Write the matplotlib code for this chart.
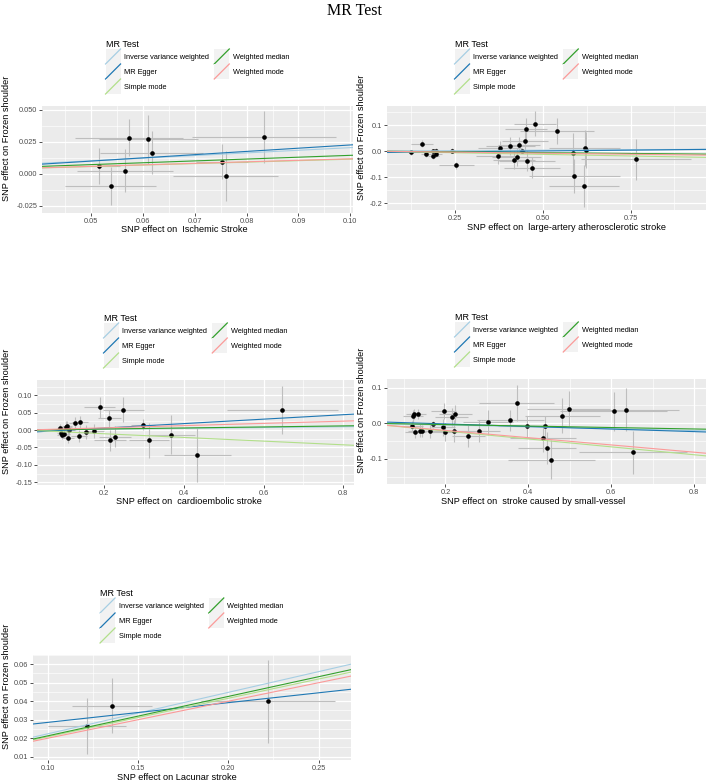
import numpy as np
import matplotlib
matplotlib.use('Agg')
import matplotlib.pyplot as plt
from matplotlib.lines import Line2D
from matplotlib.patches import Rectangle
from matplotlib.legend_handler import HandlerBase
from matplotlib.ticker import MultipleLocator, AutoMinorLocator, FormatStrFormatter

plt.rcParams['font.family'] = ['Liberation Sans', 'DejaVu Sans']
plt.rcParams['axes.unicode_minus'] = False

# ---- data ----
methods = ['Inverse variance weighted', 'MR Egger', 'Simple mode', 'Weighted median', 'Weighted mode']
method_colors = ['#a6cee3', '#1f78b4', '#b2df8a', '#33a02c', '#fb9a99']

# Ischemic stroke
isch_x = [0.0516, 0.0538, 0.0566, 0.0574, 0.0611, 0.0617, 0.0752, 0.0760, 0.0833]
isch_y = [0.0062, -0.0094, 0.0026, 0.0284, 0.0270, 0.0167, 0.0096, -0.0016, 0.0286]
isch_xerr = [0.004, 0.0088, 0.0092, 0.0104, 0.0095, 0.0099, 0.005, 0.0101, 0.0139]
isch_yerr = [0.0139, 0.0147, 0.0169, 0.0146, 0.0193, 0.0165, 0.0137, 0.0195, 0.0202]
isch_slope = [0.205, 0.252, 0.115, 0.145, 0.118]
isch_icpt = [0.0, -0.0026, 0.0, 0.0, 0.0]

# large-artery atherosclerotic stroke
laa_x = [0.125, 0.156, 0.167, 0.186, 0.188, 0.195, 0.197, 0.242, 0.254, 0.371,
         0.378, 0.407, 0.419, 0.426, 0.432, 0.440, 0.450, 0.453, 0.455, 0.468,
         0.478, 0.540, 0.586, 0.590, 0.617, 0.619, 0.624, 0.765]
laa_y = [-0.005, 0.029, -0.012, 0.001, -0.018, 0.000, -0.010, 0.001, -0.055, -0.019,
         0.010, 0.020, -0.035, -0.023, 0.024, 0.001, 0.037, 0.083, -0.038, -0.063,
         0.104, 0.076, -0.009, -0.095, -0.135, 0.012, 0.004, -0.032]
laa_xerr = [0.010, 0.031, 0.015, 0.008, 0.015, 0.010, 0.015, 0.005, 0.050, 0.060,
            0.062, 0.070, 0.060, 0.070, 0.060, 0.010, 0.065, 0.060, 0.080, 0.080,
            0.060, 0.105, 0.020, 0.129, 0.100, 0.100, 0.010, 0.157]
laa_yerr = [0.010, 0.012, 0.012, 0.006, 0.012, 0.010, 0.012, 0.010, 0.015, 0.030,
            0.030, 0.035, 0.035, 0.035, 0.030, 0.010, 0.040, 0.044, 0.040, 0.040,
            0.048, 0.050, 0.080, 0.064, 0.080, 0.070, 0.070, 0.077]
laa_slope = [0.007, 0.013, -0.025, -0.012, -0.016]
laa_icpt = [0.0, -0.006, 0.0, 0.0, 0.0]

# cardioembolic stroke
ce_x = [0.090, 0.092, 0.094, 0.098, 0.103, 0.107, 0.111, 0.109, 0.126, 0.136,
        0.139, 0.153, 0.174, 0.188, 0.213, 0.214, 0.227, 0.248, 0.298, 0.313,
        0.367, 0.434, 0.647]
ce_y = [0.005, -0.008, -0.014, -0.010, 0.010, 0.012, 0.000, -0.022, 0.020, -0.017,
        0.023, -0.005, -0.003, 0.065, 0.034, -0.029, -0.019, 0.059, 0.016, -0.029,
        -0.013, -0.072, 0.059]
ce_xerr = [0.010, 0.012, 0.012, 0.015, 0.015, 0.012, 0.015, 0.015, 0.015, 0.020,
           0.020, 0.020, 0.025, 0.040, 0.030, 0.040, 0.040, 0.052, 0.030, 0.050,
           0.060, 0.084, 0.139]
ce_yerr = [0.012, 0.012, 0.012, 0.012, 0.015, 0.015, 0.015, 0.015, 0.018, 0.018,
           0.018, 0.020, 0.020, 0.031, 0.025, 0.030, 0.030, 0.036, 0.015, 0.050,
           0.055, 0.077, 0.069]
ce_slope = [0.012, 0.064, -0.053, 0.015, 0.032]
ce_icpt = [0.0, -0.007, 0.0, 0.0, 0.0]

# stroke caused by small-vessel
svs_x = [0.120, 0.122, 0.124, 0.127, 0.133, 0.139, 0.144, 0.162, 0.170, 0.194,
         0.196, 0.198, 0.215, 0.220, 0.224, 0.255, 0.282, 0.303, 0.357, 0.372,
         0.396, 0.435, 0.440, 0.446, 0.456, 0.482, 0.498, 0.606, 0.635, 0.653]
svs_y = [-0.008, 0.019, 0.026, -0.025, 0.026, -0.021, -0.022, -0.023, -0.003, -0.012,
         0.035, -0.026, 0.017, -0.022, 0.026, -0.036, -0.022, 0.002, 0.008, 0.056,
         -0.009, -0.042, -0.009, -0.070, -0.103, 0.021, 0.041, 0.033, 0.038, -0.082]
svs_xerr = [0.025, 0.025, 0.020, 0.025, 0.020, 0.030, 0.025, 0.030, 0.030, 0.030,
            0.030, 0.030, 0.040, 0.040, 0.040, 0.040, 0.050, 0.060, 0.080, 0.090,
            0.070, 0.080, 0.050, 0.070, 0.105, 0.090, 0.100, 0.130, 0.130, 0.130]
svs_yerr = [0.015, 0.018, 0.015, 0.018, 0.015, 0.018, 0.018, 0.020, 0.010, 0.025,
            0.022, 0.025, 0.025, 0.030, 0.025, 0.030, 0.030, 0.035, 0.030, 0.050,
            0.030, 0.040, 0.030, 0.045, 0.055, 0.050, 0.050, 0.055, 0.060, 0.060]
svs_slope = [-0.026, -0.036, -0.111, -0.0205, -0.102]
svs_icpt = [0.0, 0.005, 0.0, 0.0, 0.0]

# Lacunar stroke
lac_x = [0.1217, 0.1357, 0.2219]
lac_y = [0.0266, 0.0376, 0.0400]
lac_xerr = [0.0218, 0.0222, 0.0370]
lac_yerr = [0.0149, 0.0149, 0.0225]
lac_slope = [0.224, 0.1066, 0.208, 0.213, 0.200]
lac_icpt = [0.0, 0.0179, 0.0, 0.0, 0.0]

exposures = ['SNP effect on  Ischemic Stroke',
             'SNP effect on  large-artery atherosclerotic stroke',
             'SNP effect on  cardioembolic stroke',
             'SNP effect on  stroke caused by small-vessel',
             'SNP effect on Lacunar stroke']
outcome_label = 'SNP effect on Frozen shoulder'

panels = [
    (isch_x, isch_y, isch_xerr, isch_yerr, isch_slope, isch_icpt),
    (laa_x, laa_y, laa_xerr, laa_yerr, laa_slope, laa_icpt),
    (ce_x, ce_y, ce_xerr, ce_yerr, ce_slope, ce_icpt),
    (svs_x, svs_y, svs_xerr, svs_yerr, svs_slope, svs_icpt),
    (lac_x, lac_y, lac_xerr, lac_yerr, lac_slope, lac_icpt),
]

# ---- layout (pixels: left, top, right, bottom) ----
W, H = 708, 782
boxes = [(42, 106, 353, 213), (387, 106, 706, 210), (37, 380, 354, 485),
         (387, 379, 706, 484), (33, 655, 351, 760)]
xlims = [(0.0406, 0.1005), (0.056, 0.965), (0.031, 0.827), (0.059, 0.829), (0.0917, 0.268)]
ylims = [(-0.0305, 0.053), (-0.226, 0.173), (-0.158, 0.144), (-0.171, 0.124), (0.0082, 0.065)]
xsteps = [0.01, 0.25, 0.2, 0.2, 0.05]
ysteps = [0.025, 0.1, 0.05, 0.1, 0.01]
xfmts = ['%.2f', '%.2f', '%.1f', '%.1f', '%.2f']
yfmts = ['%.3f', '%.1f', '%.2f', '%.1f', '%.2f']
xlab_pos = [0.457, 0.564, 0.48, 0.458, 0.453]


class DiagKey(HandlerBase):
    def create_artists(self, legend, orig_handle, xdescent, ydescent, width, height, fontsize, trans):
        box = Rectangle((-xdescent, -ydescent), width, height, facecolor='#F2F2F2',
                        edgecolor='none', transform=trans)
        line = Line2D([-xdescent, -xdescent + width], [-ydescent, -ydescent + height],
                      color=orig_handle.get_color(), lw=0.9, transform=trans)
        return [box, line]


fig = plt.figure(figsize=(W / 100, H / 100), dpi=100)
fig.text(0.5, 1 - 11 / H, 'MR Test', family='Liberation Serif', fontsize=11.5,
         ha='center', va='center')

for i, (x, y, xe, ye, slopes, icpts) in enumerate(panels):
    l, t, r, b = boxes[i]
    ax = fig.add_axes([l / W, 1 - b / H, (r - l) / W, (b - t) / H])
    ax.set_facecolor('#EBEBEB')
    for s in ax.spines.values():
        s.set_visible(False)
    ax.set_xlim(*xlims[i])
    ax.set_ylim(*ylims[i])
    ax.xaxis.set_major_locator(MultipleLocator(xsteps[i]))
    ax.yaxis.set_major_locator(MultipleLocator(ysteps[i]))
    ax.xaxis.set_minor_locator(AutoMinorLocator(2))
    ax.yaxis.set_minor_locator(AutoMinorLocator(2))
    ax.xaxis.set_major_formatter(FormatStrFormatter(xfmts[i]))
    ax.yaxis.set_major_formatter(FormatStrFormatter(yfmts[i]))
    ax.grid(which='major', color='white', lw=0.9)
    ax.grid(which='minor', color='white', lw=0.45)
    ax.set_axisbelow(True)
    ax.tick_params(which='major', length=2, width=0.6, color='#333333', labelsize=5.3,
                   labelcolor='#4D4D4D', pad=1.5)
    ax.tick_params(which='minor', length=0)

    ax.errorbar(x, y, xerr=xe, yerr=ye, fmt='none', ecolor='#BEBEBE', elinewidth=0.8,
                capsize=0, zorder=2)
    ax.scatter(x, y, s=11, color='black', zorder=3, linewidths=0)
    xs = np.array(xlims[i])
    for m in range(len(methods)):
        ax.plot(xs, icpts[m] + slopes[m] * xs, color=method_colors[m], lw=0.8, zorder=4)

    ax.set_xlabel(exposures[i], fontsize=6.6)
    ax.xaxis.set_label_coords(xlab_pos[i], -17 / (b - t))
    ax.xaxis.label.set_va('center')
    ax.set_ylabel(outcome_label, fontsize=6.6)
    ax.yaxis.set_label_coords((7 + (354 if l > 354 else 0) - l) / (r - l), 0.70)
    ax.yaxis.label.set_va('center')

    handles = [Line2D([], [], color=c) for c in method_colors]
    ax.legend(handles, methods, handler_map={Line2D: DiagKey()}, ncol=2,
              loc='lower center', bbox_to_anchor=(0.5, 1 + 12 / (b - t)), frameon=False,
              title='MR Test', alignment='left', fontsize=5.3, title_fontsize=6.5,
              handlelength=2.04, handleheight=2.76, labelspacing=0.0, handletextpad=0.5,
              columnspacing=0.7, borderpad=0, borderaxespad=0)

fig.savefig('out.png', dpi=100)
